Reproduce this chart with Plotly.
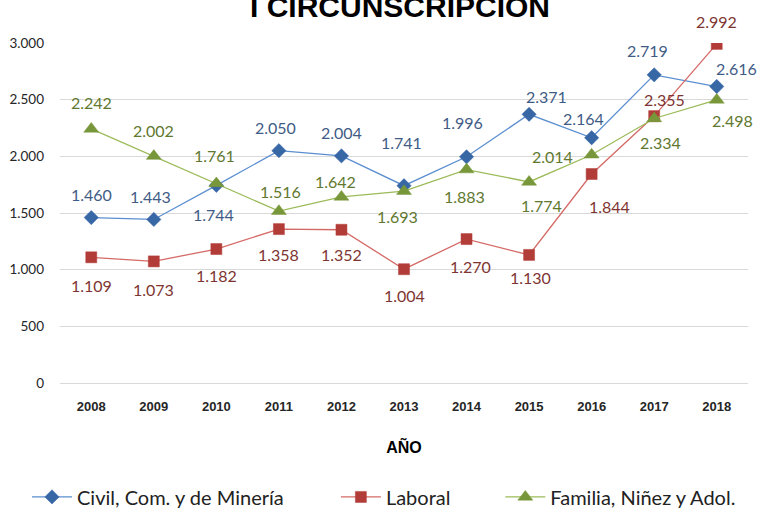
import plotly.graph_objects as go

years = ["2008", "2009", "2010", "2011", "2012", "2013", "2014", "2015", "2016", "2017", "2018"]
civil = [1460, 1443, 1744, 2050, 2004, 1741, 1996, 2371, 2164, 2719, 2616]
laboral = [1109, 1073, 1182, 1358, 1352, 1004, 1270, 1130, 1844, 2355, 2992]
familia = [2242, 2002, 1761, 1516, 1642, 1693, 1883, 1774, 2014, 2334, 2498]

names = ["Civil, Com. y de Minería", "Laboral", "Familia, Niñez y Adol."]
y_ticks = [0, 500, 1000, 1500, 2000, 2500, 3000]

# label offsets in pixels (dx, dy) - styling only
off_civil = [(0, 23), (-3, 23), (-3, -29), (-3, 23), (0, 23), (-3, 43), (-4, 34), (17, 18), (-8, 19), (-7, 24), (20, 18)]
off_laboral = [(0, -28), (0, -28), (0, -26), (0, -25), (0, -25), (0, -26), (4, -27), (1, -23), (18, -32), (10, 17), (0, 22)]
off_familia = [(0, 26), (0, 26), (-2, 28), (2, 20), (-6, 15), (-7, -25), (-2, -27), (12, -24), (-39, -2), (6, -24), (16, -21)]

line_cols = ["#5B8ED0", "#D46A66", "#9BBB59"]
mark_cols = ["#3867A6", "#B23C38", "#78973A"]
lab_cols = ["#3F5C86", "#7E3532", "#61782F"]
symbols = ["diamond", "square", "triangle-up"]
msizes = [11, 11, 13]
legend_ids = ["legend", "legend2", "legend3"]
legend_x = [-0.048, 0.401, 0.640]

series = [civil, laboral, familia]
offsets = [off_civil, off_laboral, off_familia]

def fmt(v):
    return f"{v:,}".replace(",", ".")

fig = go.Figure()
annotations = []
for i, vals in enumerate(series):
    fig.add_trace(go.Scatter(
        x=years, y=vals, name=names[i], mode="lines+markers", legend=legend_ids[i],
        line=dict(color=line_cols[i], width=1.3),
        marker=dict(symbol=symbols[i], size=msizes[i], color=mark_cols[i],
                    line=dict(color=mark_cols[i], width=0.5)),
    ))
    for j, v in enumerate(vals):
        dx, dy = offsets[i][j]
        annotations.append(dict(
            x=j, y=v, xref="x", yref="y", text=fmt(v), showarrow=False,
            xshift=dx, yshift=dy, font=dict(family="Lato", size=16, color=lab_cols[i]),
        ))

annotations.append(dict(
    text="<b>I CIRCUNSCRIPCION</b>", xref="paper", yref="paper", x=0.494, y=1,
    xanchor="center", yanchor="bottom", yshift=18, showarrow=False,
    font=dict(family="Liberation Sans, Arial", size=30, color="#000000"),
))

legend_style = dict(orientation="h", y=-0.335, xanchor="left", yanchor="middle",
                    font=dict(family="Lato", size=20, color="#222222"),
                    itemwidth=40, bgcolor="rgba(0,0,0,0)")

fig.update_layout(
    width=758, height=508,
    margin=dict(l=60, r=10, t=43, b=125, autoexpand=False),
    paper_bgcolor="white", plot_bgcolor="white",
    separators=",.",
    showlegend=True,
    legend=dict(x=legend_x[0], **legend_style),
    legend2=dict(x=legend_x[1], **legend_style),
    legend3=dict(x=legend_x[2], **legend_style),
    annotations=annotations,
    xaxis=dict(
        type="category", range=[-0.5, 10.5], showgrid=False, showline=False, ticks="",
        automargin=False, ticklabelstandoff=14,
        tickfont=dict(family="Liberation Sans, Arial", size=13, color="#262626"),
        tickprefix="<b>", ticksuffix="</b>",
        title=dict(text="<b>AÑO</b>", standoff=28,
                   font=dict(family="Liberation Sans, Arial", size=16, color="#000000")),
    ),
    yaxis=dict(
        range=[0, 3000], tickvals=y_ticks, tickformat=",d", showgrid=True, automargin=False,
        gridcolor="#D9D9D9", gridwidth=1, zeroline=True, zerolinecolor="#D9D9D9",
        zerolinewidth=1, showline=False, ticks="", ticklabelstandoff=15,
        tickfont=dict(family="Lato", size=13.5, color="#262626"),
    ),
)

fig.write_html(
    "out.html",
    config={"displayModeBar": False},
    post_script="document.body.style.margin='0';document.body.style.overflow='hidden';",
)
